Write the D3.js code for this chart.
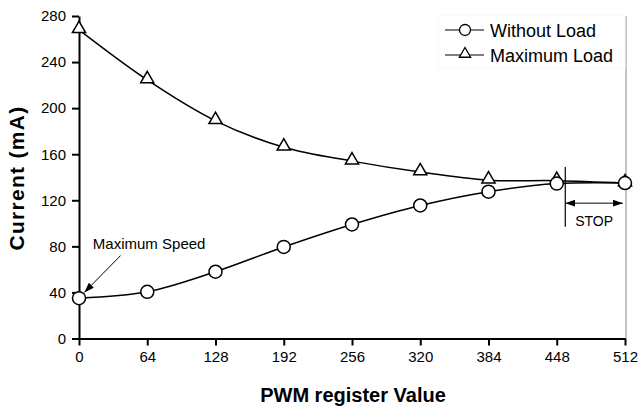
<!DOCTYPE html>
<meta charset="utf-8">
<style>
    body { margin: 0; background: #fff; }
    svg text { font-family: Arial, 'Liberation Sans', sans-serif; fill: #000; }
    .axis path, .axis line { stroke: #000; stroke-width: 2; fill: none; }
    .axis text { font-size: 15px; }
</style>
<body>
<svg id="chart"></svg>
<script src="https://cdn.jsdelivr.net/npm/d3@7"></script>
<script>
    // PWM register values (x)
    var pwm = [0, 64, 128, 192, 256, 320, 384, 448, 512];
    // current in mA
    var withoutLoad = [35, 40.5, 58, 79.5, 99, 115.5, 127.5, 134.5, 135];
    var maximumLoad = [268, 224.5, 189, 166, 154, 144.5, 137.5, 137, 135];
    var xTicks = [0, 64, 128, 192, 256, 320, 384, 448, 512];
    var yTicks = [0, 40, 80, 120, 160, 200, 240, 280];

    var W = 638, H = 407;
    var margin = { top: 16, right: 13, bottom: 68.5, left: 79 },
        width = W - margin.left - margin.right,
        height = H - margin.top - margin.bottom;

    var svg = d3.select("#chart").attr("width", W).attr("height", H);
    var g = svg.append("g")
        .attr("transform", "translate(" + margin.left + "," + margin.top + ")");

    var x = d3.scaleLinear().domain([0, 512]).range([0, width]);
    var y = d3.scaleLinear().domain([0, 280]).range([height, 0]);

    // right border of plot area
    g.append("line")
        .attr("x1", width + 1).attr("x2", width + 1)
        .attr("y1", 0).attr("y2", height)
        .attr("stroke", "#888").attr("stroke-width", 1);

    // axes
    g.append("g").attr("class", "axis")
        .attr("transform", "translate(0," + height + ")")
        .call(d3.axisBottom(x).tickValues(xTicks).tickSize(7).tickSizeOuter(0).tickPadding(6));
    g.append("g").attr("class", "axis")
        .call(d3.axisLeft(y).tickValues(yTicks).tickSize(7).tickSizeOuter(0).tickPadding(6));

    // axis titles
    svg.append("text")
        .attr("x", 353).attr("y", 402)
        .attr("text-anchor", "middle")
        .style("font-size", "20px").style("font-weight", "bold")
        .text("PWM register Value");
    svg.append("text")
        .attr("transform", "translate(24,178) rotate(-90)")
        .attr("text-anchor", "middle")
        .style("font-size", "21px").style("font-weight", "bold")
        .style("letter-spacing", "1.3px")
        .text("Current (mA)");

    var line = d3.line()
        .x(function (d, i) { return x(pwm[i]); })
        .y(function (d) { return y(d); })
        .curve(d3.curveCardinal.tension(0));

    g.append("path").datum(withoutLoad)
        .attr("d", line).attr("fill", "none").attr("stroke", "#000").attr("stroke-width", 1.5);
    g.append("path").datum(maximumLoad)
        .attr("d", line).attr("fill", "none").attr("stroke", "#000").attr("stroke-width", 1.5);

    var tri = d3.symbol().type(d3.symbolTriangle).size(75);

    g.selectAll(".tri").data(maximumLoad).enter().append("path")
        .attr("class", "tri")
        .attr("d", tri)
        .attr("transform", function (d, i) { return "translate(" + x(pwm[i]) + "," + (y(d) - 1) + ")"; })
        .attr("fill", "#fff").attr("stroke", "#000").attr("stroke-width", 1.5);

    g.selectAll(".circ").data(withoutLoad).enter().append("circle")
        .attr("class", "circ")
        .attr("cx", function (d, i) { return x(pwm[i]); })
        .attr("cy", function (d) { return y(d); })
        .attr("r", 6.5)
        .attr("fill", "#fff").attr("stroke", "#000").attr("stroke-width", 1.5);

    // arrow markers
    var defs = svg.append("defs");
    defs.append("marker").attr("id", "head")
        .attr("viewBox", "0 0 10 10").attr("refX", 10).attr("refY", 5)
        .attr("markerWidth", 10).attr("markerHeight", 10).attr("markerUnits", "userSpaceOnUse")
        .attr("orient", "auto-start-reverse")
        .append("path").attr("d", "M0,1.5 L10,5 L0,8.5 Z").attr("fill", "#000");

    // Maximum Speed annotation
    g.append("text")
        .attr("x", x(13)).attr("y", y(78))
        .style("font-size", "15px")
        .text("Maximum Speed");
    g.append("line")
        .attr("x1", x(39)).attr("y1", y(72))
        .attr("x2", x(5)).attr("y2", y(40))
        .attr("stroke", "#000").attr("stroke-width", 1)
        .attr("marker-end", "url(#head)");

    // STOP annotation
    g.append("line")
        .attr("x1", x(456)).attr("x2", x(456))
        .attr("y1", y(149)).attr("y2", y(97))
        .attr("stroke", "#000").attr("stroke-width", 1.2);
    g.append("line")
        .attr("x1", x(456)).attr("x2", x(510))
        .attr("y1", y(117.5)).attr("y2", y(117.5))
        .attr("stroke", "#000").attr("stroke-width", 1)
        .attr("marker-start", "url(#head)")
        .attr("marker-end", "url(#head)");
    g.append("text")
        .attr("x", x(483)).attr("y", y(98))
        .attr("text-anchor", "middle")
        .style("font-size", "14px")
        .text("STOP");

    // legend
    var legend = svg.append("g");
    legend.append("rect")
        .attr("x", 438).attr("y", 15).attr("width", 187).attr("height", 53)
        .attr("fill", "#fff").attr("stroke", "#f7f7f7");
    var items = [
        { name: "Without Load", type: "circle" },
        { name: "Maximum Load", type: "tri" }
    ];
    items.forEach(function (it, i) {
        var yy = 30 + i * 25;
        legend.append("line")
            .attr("x1", 445).attr("x2", 484).attr("y1", yy).attr("y2", yy)
            .attr("stroke", "#000").attr("stroke-width", 1.2);
        if (it.type == "circle") {
            legend.append("circle").attr("cx", 465).attr("cy", yy).attr("r", 5.5)
                .attr("fill", "#fff").attr("stroke", "#000").attr("stroke-width", 1.3);
        } else {
            legend.append("path").attr("d", d3.symbol().type(d3.symbolTriangle).size(55))
                .attr("transform", "translate(465," + (yy - 1) + ")")
                .attr("fill", "#fff").attr("stroke", "#000").attr("stroke-width", 1.3);
        }
        legend.append("text")
            .attr("x", 490).attr("y", yy + 6.5)
            .style("font-size", "18px")
            .text(it.name);
    });
</script>
</body>
